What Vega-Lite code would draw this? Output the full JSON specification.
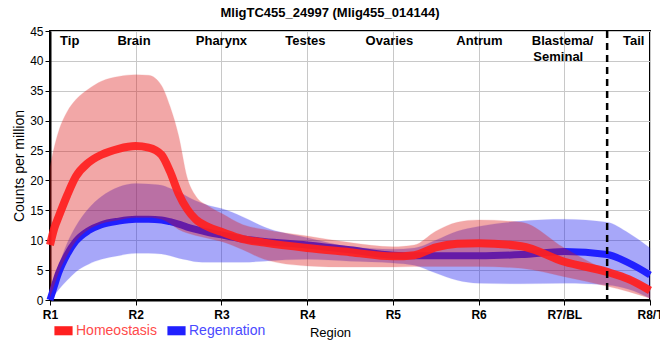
{
  "$schema": "https://vega.github.io/schema/vega-lite/v6.json",
  "autosize": "none",
  "width": 600,
  "height": 269,
  "padding": {"left": 50, "top": 31, "right": 10, "bottom": 60},
  "background": "white",
  "title": {"text": "MligTC455_24997 (Mlig455_014144)", "font": "Liberation Sans", "fontSize": 13, "fontWeight": "bold", "color": "#000", "anchor": "middle", "dx": -20, "offset": 5},
  "config": {
    "view": {"stroke": "#000", "strokeWidth": 2},
    "axis": {"gridColor": "#c8c8c8", "gridWidth": 1, "domainColor": "#000", "domainWidth": 2, "tickColor": "#000"},
    "axisY": {"tickCount": 12}
  },
  "datasets": {
    "curves": [
      {"r": 1, "series": "Homeostasis", "mean": 9.2, "lo": 0.5, "hi": 22.3},
      {"r": 1.05, "series": "Homeostasis", "mean": 12, "lo": 2.5, "hi": 25.6},
      {"r": 1.1, "series": "Homeostasis", "mean": 13.9, "lo": 4.5, "hi": 28.2},
      {"r": 1.2, "series": "Homeostasis", "mean": 17.5, "lo": 7.5, "hi": 31.5},
      {"r": 1.3, "series": "Homeostasis", "mean": 20.6, "lo": 9.8, "hi": 33.5},
      {"r": 1.45, "series": "Homeostasis", "mean": 23.0, "lo": 11.8, "hi": 35.3},
      {"r": 1.6, "series": "Homeostasis", "mean": 24.3, "lo": 12.8, "hi": 36.6},
      {"r": 1.8, "series": "Homeostasis", "mean": 25.3, "lo": 13.4, "hi": 37.4},
      {"r": 2, "series": "Homeostasis", "mean": 25.75, "lo": 13.8, "hi": 37.7},
      {"r": 2.15, "series": "Homeostasis", "mean": 25.5, "lo": 13.8, "hi": 37.6},
      {"r": 2.3, "series": "Homeostasis", "mean": 24.3, "lo": 13.5, "hi": 35.9},
      {"r": 2.4, "series": "Homeostasis", "mean": 21.5, "lo": 12.8, "hi": 32.4},
      {"r": 2.5, "series": "Homeostasis", "mean": 17.8, "lo": 11.8, "hi": 27.5},
      {"r": 2.6, "series": "Homeostasis", "mean": 15.2, "lo": 11.2, "hi": 20.5},
      {"r": 2.7, "series": "Homeostasis", "mean": 13.5, "lo": 10.8, "hi": 17.4},
      {"r": 2.85, "series": "Homeostasis", "mean": 12.2, "lo": 10.3, "hi": 15.7},
      {"r": 3, "series": "Homeostasis", "mean": 11.4, "lo": 9.8, "hi": 14.5},
      {"r": 3.25, "series": "Homeostasis", "mean": 10.2, "lo": 8.4, "hi": 12.6},
      {"r": 3.5, "series": "Homeostasis", "mean": 9.6, "lo": 6.8, "hi": 11.8},
      {"r": 4, "series": "Homeostasis", "mean": 8.7, "lo": 5.7, "hi": 10.7},
      {"r": 4.5, "series": "Homeostasis", "mean": 8.0, "lo": 5.5, "hi": 9.6},
      {"r": 5, "series": "Homeostasis", "mean": 7.3, "lo": 5.5, "hi": 8.9},
      {"r": 5.25, "series": "Homeostasis", "mean": 7.5, "lo": 5.6, "hi": 9.2},
      {"r": 5.5, "series": "Homeostasis", "mean": 8.8, "lo": 5.6, "hi": 11.5},
      {"r": 5.75, "series": "Homeostasis", "mean": 9.4, "lo": 5.6, "hi": 13},
      {"r": 6, "series": "Homeostasis", "mean": 9.5, "lo": 5.6, "hi": 13.4},
      {"r": 6.5, "series": "Homeostasis", "mean": 9.0, "lo": 5.3, "hi": 13},
      {"r": 7, "series": "Homeostasis", "mean": 6.4, "lo": 3.9, "hi": 8.7},
      {"r": 7.5, "series": "Homeostasis", "mean": 4.7, "lo": 2.3, "hi": 5},
      {"r": 7.75, "series": "Homeostasis", "mean": 3.5, "lo": 1.4, "hi": 3.8},
      {"r": 8, "series": "Homeostasis", "mean": 1.6, "lo": 0.3, "hi": 2.2},
      {"r": 1, "series": "Regenration", "mean": 0, "lo": 0, "hi": 0.3},
      {"r": 1.05, "series": "Regenration", "mean": 2.3, "lo": 0.8, "hi": 3.3},
      {"r": 1.1, "series": "Regenration", "mean": 4.5, "lo": 1.7, "hi": 5.6},
      {"r": 1.2, "series": "Regenration", "mean": 7.6, "lo": 3.3, "hi": 9.5},
      {"r": 1.3, "series": "Regenration", "mean": 9.8, "lo": 4.7, "hi": 12.3},
      {"r": 1.45, "series": "Regenration", "mean": 11.6, "lo": 6.0, "hi": 15.3},
      {"r": 1.6, "series": "Regenration", "mean": 12.6, "lo": 6.8, "hi": 17.3},
      {"r": 1.8, "series": "Regenration", "mean": 13.2, "lo": 7.4, "hi": 18.9},
      {"r": 2, "series": "Regenration", "mean": 13.5, "lo": 7.8, "hi": 19.5},
      {"r": 2.15, "series": "Regenration", "mean": 13.5, "lo": 7.8, "hi": 19.4},
      {"r": 2.3, "series": "Regenration", "mean": 13.4, "lo": 7.7, "hi": 19.2},
      {"r": 2.4, "series": "Regenration", "mean": 13.1, "lo": 7.4, "hi": 18.7},
      {"r": 2.5, "series": "Regenration", "mean": 12.7, "lo": 7.0, "hi": 18.1},
      {"r": 2.6, "series": "Regenration", "mean": 12.2, "lo": 6.7, "hi": 17.3},
      {"r": 2.7, "series": "Regenration", "mean": 11.8, "lo": 6.4, "hi": 16.6},
      {"r": 2.85, "series": "Regenration", "mean": 11.3, "lo": 6.3, "hi": 15.8},
      {"r": 3, "series": "Regenration", "mean": 10.9, "lo": 6.3, "hi": 15.3},
      {"r": 3.25, "series": "Regenration", "mean": 10.2, "lo": 6.3, "hi": 13.9},
      {"r": 3.5, "series": "Regenration", "mean": 9.8, "lo": 6.5, "hi": 12.2},
      {"r": 4, "series": "Regenration", "mean": 9.2, "lo": 6.8, "hi": 10.4},
      {"r": 4.5, "series": "Regenration", "mean": 8.4, "lo": 6.5, "hi": 8.9},
      {"r": 5, "series": "Regenration", "mean": 7.5, "lo": 6.2, "hi": 8.5},
      {"r": 5.25, "series": "Regenration", "mean": 7.4, "lo": 5.8, "hi": 8.7},
      {"r": 5.5, "series": "Regenration", "mean": 7.4, "lo": 4.5, "hi": 10},
      {"r": 5.75, "series": "Regenration", "mean": 7.4, "lo": 3.3, "hi": 11.5},
      {"r": 6, "series": "Regenration", "mean": 7.4, "lo": 2.8, "hi": 12.3},
      {"r": 6.5, "series": "Regenration", "mean": 7.6, "lo": 2.7, "hi": 13.2},
      {"r": 7, "series": "Regenration", "mean": 8.1, "lo": 2.8, "hi": 13.5},
      {"r": 7.5, "series": "Regenration", "mean": 7.6, "lo": 2.5, "hi": 13},
      {"r": 7.75, "series": "Regenration", "mean": 6.2, "lo": 1.8, "hi": 11.2},
      {"r": 8, "series": "Regenration", "mean": 4.2, "lo": 0.3, "hi": 8.7}
    ],
    "regions": [
      {"r": 1.23, "y": 43.3, "label": "Tip"},
      {"r": 1.98, "y": 43.3, "label": "Brain"},
      {"r": 3.0, "y": 43.3, "label": "Pharynx"},
      {"r": 3.98, "y": 43.3, "label": "Testes"},
      {"r": 4.96, "y": 43.3, "label": "Ovaries"},
      {"r": 6.01, "y": 43.3, "label": "Antrum"},
      {"r": 6.98, "y": 43.3, "label": "Blastema/"},
      {"r": 6.93, "y": 40.7, "label": "Seminal"},
      {"r": 7.81, "y": 43.3, "label": "Tail"}
    ],
    "divider": [{"r": 7.5}]
  },
  "layer": [
    {
      "data": {"name": "curves"},
      "transform": [{"filter": "datum.series === 'Regenration'"}],
      "mark": {"type": "area", "interpolate": "monotone", "color": "#1414f0", "opacity": 0.37, "stroke": "#1414f0", "strokeOpacity": 0.2, "strokeWidth": 1},
      "encoding": {
        "x": {"field": "r", "type": "quantitative", "scale": {"domain": [1, 8], "nice": false, "zero": false},
              "axis": {"values": [1, 2, 3, 4, 5, 6, 7, 8], "tickCount": 20, "grid": true, "title": "Region", "titleFont": "Liberation Sans", "titleFontWeight": "normal", "titleFontSize": 13, "titleColor": "#000", "titlePadding": 6, "titleX": 280,
                       "labelExpr": "['R1','R2','R3','R4','R5','R6','R7/BL','R8/T'][datum.value - 1]",
                       "labelFont": "Liberation Sans", "labelFontWeight": "bold", "labelFontSize": 12, "labelColor": "#000", "labelPadding": 4, "tickSize": 5, "labelOverlap": false, "labelFlush": false}},
        "y": {"field": "lo", "type": "quantitative", "scale": {"domain": [0, 45], "nice": false, "zero": true},
              "axis": {"values": [0, 5, 10, 15, 20, 25, 30, 35, 40, 45], "tickCount": 12, "grid": true, "title": "Counts per million", "titleFont": "Liberation Sans", "titleFontWeight": "normal", "titleFontSize": 14, "titleColor": "#000", "titlePadding": 3,
                       "labelFont": "Liberation Sans", "labelFontSize": 12, "labelColor": "#000", "tickSize": 5, "labelPadding": 2, "labelOverlap": false}},
        "y2": {"field": "hi"}
      }
    },
    {
      "data": {"name": "curves"},
      "transform": [{"filter": "datum.series === 'Regenration'"}],
      "mark": {"type": "line", "interpolate": "monotone", "strokeWidth": 7},
      "encoding": {
        "x": {"field": "r", "type": "quantitative"},
        "y": {"field": "mean", "type": "quantitative"},
        "color": {"field": "series", "type": "nominal",
                  "scale": {"domain": ["Homeostasis", "Regenration"], "range": ["#ff2020", "#2020ff"]},
                  "legend": {"orient": "none", "legendX": 4, "legendY": 290, "direction": "horizontal", "title": null,
                             "symbolType": "M-1,-0.5L1,-0.5L1,0.5L-1,0.5Z", "symbolSize": 330, "symbolStrokeWidth": 0,
                             "labelFont": "Liberation Sans", "labelFontSize": 14, "columnPadding": 10, "labelOffset": 3,
                             "encode": {
                               "symbols": {"update": {"fill": {"signal": "datum.value === 'Homeostasis' ? '#ff2020' : '#2020ff'"}, "fillOpacity": {"value": 1}, "strokeWidth": {"value": 0}}},
                               "labels": {"update": {"fill": {"signal": "datum.value === 'Homeostasis' ? '#ff4a4a' : '#4a4aff'"}}}
                             }}}
      }
    },
    {
      "data": {"name": "curves"},
      "transform": [{"filter": "datum.series === 'Homeostasis'"}],
      "mark": {"type": "area", "interpolate": "monotone", "color": "#dc1414", "opacity": 0.37, "stroke": "#dc1414", "strokeOpacity": 0.25, "strokeWidth": 1},
      "encoding": {
        "x": {"field": "r", "type": "quantitative"},
        "y": {"field": "lo", "type": "quantitative"},
        "y2": {"field": "hi"}
      }
    },
    {
      "data": {"name": "curves"},
      "transform": [{"filter": "datum.series === 'Homeostasis'"}],
      "mark": {"type": "line", "interpolate": "monotone", "strokeWidth": 8, "opacity": 0.92},
      "encoding": {
        "x": {"field": "r", "type": "quantitative"},
        "y": {"field": "mean", "type": "quantitative"},
        "color": {"field": "series", "type": "nominal"}
      }
    },
    {
      "data": {"name": "divider"},
      "mark": {"type": "rule", "color": "#000", "strokeWidth": 2.5, "strokeDash": [7, 5]},
      "encoding": {"x": {"field": "r", "type": "quantitative"}}
    },
    {
      "data": {"name": "regions"},
      "mark": {"type": "text", "font": "Liberation Sans", "fontWeight": "bold", "fontSize": 13, "color": "#000", "align": "center", "baseline": "middle"},
      "encoding": {
        "x": {"field": "r", "type": "quantitative"},
        "y": {"field": "y", "type": "quantitative"},
        "text": {"field": "label"}
      }
    }
  ]
}
